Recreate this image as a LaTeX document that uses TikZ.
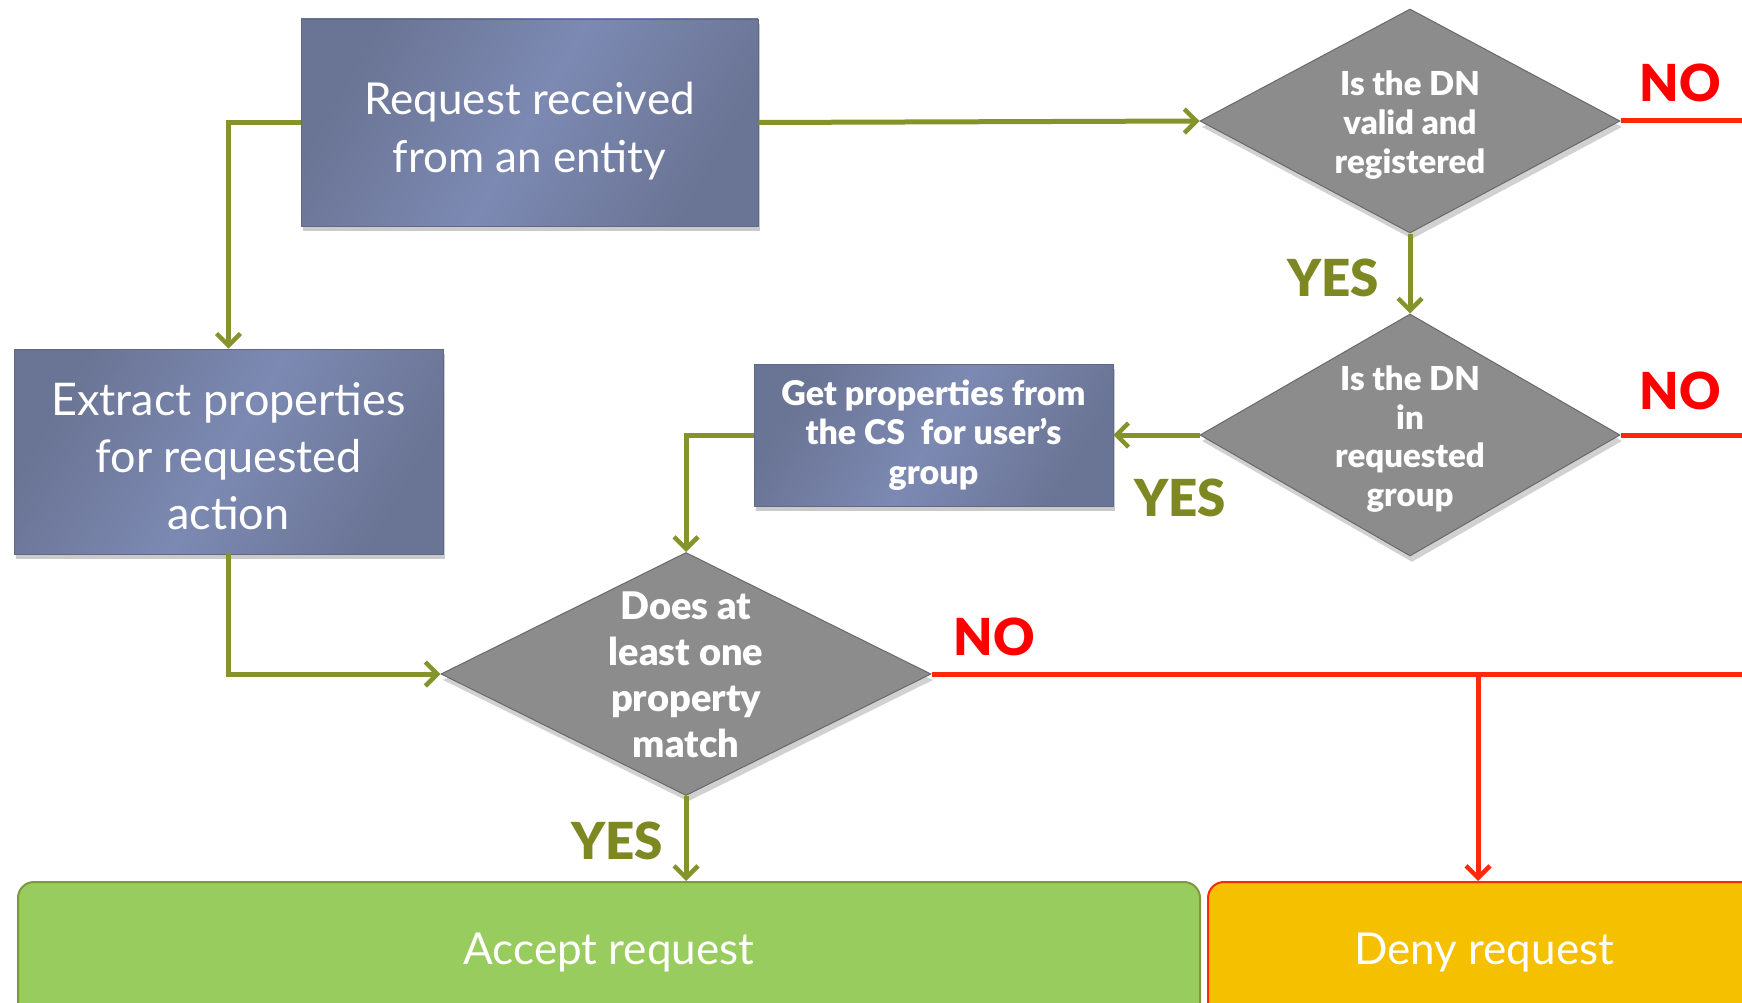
\documentclass[tikz,border=0pt]{standalone}
\usepackage{fontspec}
\setmainfont{Lato}
\IfFontExistsTF{Lato Black}{\newfontfamily\heavyfont{Lato Black}}{\newcommand\heavyfont{\bfseries}}
\usetikzlibrary{shapes.geometric,arrows.meta,shadows,calc}
\definecolor{boxdark}{RGB}{106,116,148}
\definecolor{boxlight}{RGB}{124,137,178}
\definecolor{dia}{RGB}{140,140,140}
\definecolor{diaborder}{RGB}{105,105,105}
\definecolor{olive}{RGB}{134,146,42}
\definecolor{yestext}{RGB}{125,136,35}
\definecolor{nored}{RGB}{255,0,0}
\definecolor{redline}{RGB}{255,40,10}
\definecolor{acceptfill}{RGB}{153,204,94}
\definecolor{acceptborder}{RGB}{130,150,60}
\definecolor{denyfill}{RGB}{245,192,0}
\tikzset{
  procbox/.style={rectangle, draw=boxdark!90!black, line width=0.6pt,
    left color=boxdark, right color=boxdark, middle color=boxlight, shading angle=60,
    text=white, align=center, inner sep=0pt,
    drop shadow={shadow xshift=2pt, shadow yshift=-5pt, opacity=0.35, fill=black!60}},
  decision/.style={diamond, fill=dia, draw=diaborder, line width=1pt, text=white,
    align=center, inner sep=0pt,
    drop shadow={shadow xshift=2pt, shadow yshift=-6pt, opacity=0.3, fill=black!60}},
  yesflow/.style={draw=olive, line width=5pt, -{Straight Barb[length=12pt,width=24pt,line width=4.5pt]}},
  noflow/.style={draw=redline, line width=5pt, -{Straight Barb[length=12pt,width=24pt,line width=4.5pt]}},
  noline/.style={draw=redline, line width=5pt},
  yeslbl/.style={text=yestext, font=\heavyfont\fontsize{51}{55}\selectfont},
  nolbl/.style={text=nored, font=\heavyfont\fontsize{51}{55}\selectfont},
}
\begin{document}
\begin{tikzpicture}[x=1pt,y=-1pt]
\useasboundingbox (0,0) rectangle (1742,1003);
\clip (0,0) rectangle (1742,1003);

% process boxes
\node[procbox, minimum width=457pt, minimum height=207pt] (req) at (529.5,122.5) {};
\node[text=white, align=center, font=\fontsize{44}{58}\selectfont] (reqt) at ($(req.center)+(0,9)$) {Request received\\from an entity};
\node[procbox, minimum width=429pt, minimum height=205pt] (ext) at (228.5,451.5) {};
\node[text=white, align=center, font=\fontsize{45}{57}\selectfont] (extt) at ($(ext.center)+(0,5)$) {Extract properties\\for requested\\action};
\node[procbox, minimum width=359pt, minimum height=142pt,
  font=\heavyfont\fontsize{34}{39.5}\selectfont] (get) at (933.5,435) {Get properties from\\the CS\ \ for user’s\\group};

% decisions
\node[decision, minimum width=420pt, minimum height=224pt, aspect=1.875] (d1) at (1410,121) {};
\node[text=white, align=center, font=\heavyfont\fontsize{33}{39}\selectfont] (d1t) at ($(d1.center)+(0,4)$) {Is the DN\\valid and\\registered};
\node[decision, minimum width=420pt, minimum height=242pt, aspect=1.735] (d2) at (1410,435) {};
\node[text=white, align=center, font=\heavyfont\fontsize{33}{38.5}\selectfont] (d2t) at ($(d2.center)+(0,4)$) {Is the DN\\in\\requested\\group};
\node[decision, minimum width=490pt, minimum height=243pt, aspect=2.0] (d3) at (686,674) {};
\node[text=white, align=center, font=\heavyfont\fontsize{38}{46}\selectfont] (d3t) at ($(d3.center)+(0,1)$) {Does at\\least one\\property\\match};

% terminal boxes
\node[rectangle, rounded corners=16pt, fill=acceptfill, draw=acceptborder, line width=2pt,
  minimum width=1182pt, minimum height=140pt, text=white,
  font=\fontsize{44}{52}\selectfont] (acc) at (609,952) {Accept request};
\node[rectangle, rounded corners=16pt, fill=denyfill, draw=redline, line width=2pt,
  minimum width=552pt, minimum height=140pt, text=white,
  font=\fontsize{44}{52}\selectfont] (deny) at (1484,952) {Deny request};

% edge coordinates
\coordinate (e1) at (1745,121);
\coordinate (e2) at (1745,435);
\coordinate (e3) at (1745,674);
\coordinate (br) at (1478,674);

% connectors
\draw[yesflow] (req.east) -- (d1.west);
\draw[yesflow] (req.west) -| (ext.north);
\draw[yesflow] (ext.south) |- (d3.west);
\draw[yesflow] (d1.south) -- (d2.north);
\draw[yesflow] (d2.west) -- (get.east);
\draw[yesflow] (get.west) -| (d3.north);
\draw[yesflow] (d3.south) -- (d3.south |- acc.north);

\draw[noline] (d1.east) -- (e1);
\draw[noline] (d2.east) -- (e2);
\draw[noline] (d3.east) -- (e3);
\draw[noflow] (br) -- (br |- deny.north);

% labels
\node[nolbl] (no1) at (1680,83) {NO};
\node[nolbl] (no2) at (1680,391) {NO};
\node[nolbl] (no3) at (994,637) {NO};
\node[yeslbl] (yes1) at (1333,278) {YES};
\node[yeslbl] (yes2) at (1180,498) {YES};
\node[yeslbl] (yes3) at (617,841) {YES};
\end{tikzpicture}
\end{document}
